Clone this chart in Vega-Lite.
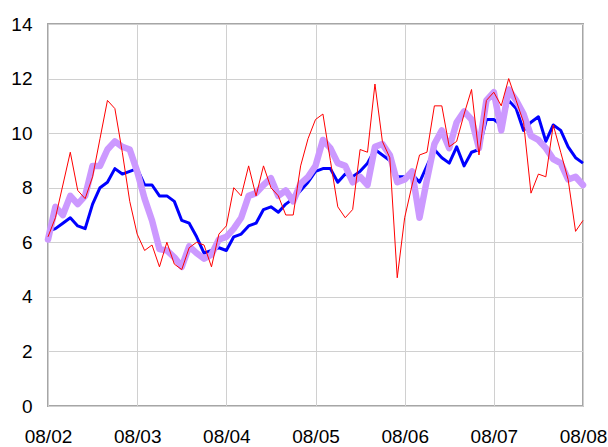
{
  "$schema": "https://vega.github.io/schema/vega-lite/v6.json",
  "autosize": "none",
  "width": 535,
  "height": 382,
  "padding": {"left": 48, "top": 24, "right": 25, "bottom": 41},
  "background": "white",
  "config": {
    "view": {"stroke": "#A6A6A6", "strokeWidth": 2},
    "axis": {"labelFont": "Liberation Sans", "labelFontSize": 19, "labelColor": "#000000", "gridColor": "#D0D0D0", "gridWidth": 1, "domain": false, "ticks": false, "title": null}
  },
  "data": {"values": [
    {"i":0,"red":6.2,"blue":6.4,"purple":6.1},
    {"i":1,"red":6.9,"blue":6.5,"purple":7.3},
    {"i":2,"red":8.1,"blue":6.7,"purple":7.0},
    {"i":3,"red":9.3,"blue":6.9,"purple":7.7},
    {"i":4,"red":7.9,"blue":6.6,"purple":7.4},
    {"i":5,"red":7.6,"blue":6.5,"purple":7.7},
    {"i":6,"red":8.4,"blue":7.4,"purple":8.8},
    {"i":7,"red":9.8,"blue":8.0,"purple":8.8},
    {"i":8,"red":11.2,"blue":8.2,"purple":9.4},
    {"i":9,"red":10.9,"blue":8.7,"purple":9.7},
    {"i":10,"red":9.3,"blue":8.5,"purple":9.5},
    {"i":11,"red":7.5,"blue":8.6,"purple":9.4},
    {"i":12,"red":6.3,"blue":8.7,"purple":8.6},
    {"i":13,"red":5.7,"blue":8.1,"purple":7.6},
    {"i":14,"red":5.9,"blue":8.1,"purple":6.8},
    {"i":15,"red":5.1,"blue":7.7,"purple":5.75},
    {"i":16,"red":6.0,"blue":7.7,"purple":5.7},
    {"i":17,"red":5.2,"blue":7.5,"purple":5.45},
    {"i":18,"red":5.0,"blue":6.8,"purple":5.1},
    {"i":19,"red":5.8,"blue":6.7,"purple":5.85},
    {"i":20,"red":6.0,"blue":6.2,"purple":5.6},
    {"i":21,"red":5.9,"blue":5.6,"purple":5.4},
    {"i":22,"red":5.1,"blue":5.7,"purple":5.55},
    {"i":23,"red":6.3,"blue":5.8,"purple":6.1},
    {"i":24,"red":6.6,"blue":5.7,"purple":6.2},
    {"i":25,"red":8.0,"blue":6.2,"purple":6.5},
    {"i":26,"red":7.7,"blue":6.3,"purple":6.9},
    {"i":27,"red":8.8,"blue":6.6,"purple":7.7},
    {"i":28,"red":7.7,"blue":6.7,"purple":7.8},
    {"i":29,"red":8.8,"blue":7.2,"purple":8.1},
    {"i":30,"red":8.0,"blue":7.3,"purple":8.35},
    {"i":31,"red":7.7,"blue":7.1,"purple":7.7},
    {"i":32,"red":7.0,"blue":7.4,"purple":7.9},
    {"i":33,"red":7.0,"blue":7.6,"purple":7.5},
    {"i":34,"red":8.8,"blue":7.9,"purple":8.15},
    {"i":35,"red":9.8,"blue":8.2,"purple":8.4},
    {"i":36,"red":10.5,"blue":8.6,"purple":8.8},
    {"i":37,"red":10.7,"blue":8.7,"purple":9.75},
    {"i":38,"red":9.0,"blue":8.7,"purple":9.45},
    {"i":39,"red":7.3,"blue":8.2,"purple":8.9},
    {"i":40,"red":6.9,"blue":8.5,"purple":8.8},
    {"i":41,"red":7.2,"blue":8.4,"purple":8.2},
    {"i":42,"red":9.4,"blue":8.6,"purple":8.4},
    {"i":43,"red":9.3,"blue":8.9,"purple":8.1},
    {"i":44,"red":11.8,"blue":9.4,"purple":9.5},
    {"i":45,"red":9.7,"blue":9.2,"purple":9.6},
    {"i":46,"red":9.1,"blue":9.0,"purple":9.2},
    {"i":47,"red":4.7,"blue":8.4,"purple":8.2},
    {"i":48,"red":6.9,"blue":8.4,"purple":8.3},
    {"i":49,"red":8.1,"blue":8.5,"purple":8.6},
    {"i":50,"red":9.2,"blue":8.2,"purple":6.9},
    {"i":51,"red":9.3,"blue":8.8,"purple":8.3},
    {"i":52,"red":11.0,"blue":9.4,"purple":9.6},
    {"i":53,"red":11.0,"blue":9.1,"purple":10.1},
    {"i":54,"red":9.5,"blue":8.9,"purple":9.45},
    {"i":55,"red":9.7,"blue":9.5,"purple":10.4},
    {"i":56,"red":10.7,"blue":8.8,"purple":10.8},
    {"i":57,"red":11.6,"blue":9.3,"purple":10.5},
    {"i":58,"red":9.2,"blue":9.4,"purple":9.45},
    {"i":59,"red":11.2,"blue":10.5,"purple":11.2},
    {"i":60,"red":11.5,"blue":10.5,"purple":11.5},
    {"i":61,"red":11.0,"blue":10.3,"purple":10.1},
    {"i":62,"red":12.0,"blue":11.2,"purple":11.6},
    {"i":63,"red":11.2,"blue":10.9,"purple":11.2},
    {"i":64,"red":10.4,"blue":10.1,"purple":10.7},
    {"i":65,"red":7.8,"blue":10.4,"purple":9.9},
    {"i":66,"red":8.5,"blue":10.6,"purple":9.75},
    {"i":67,"red":8.4,"blue":9.7,"purple":9.45},
    {"i":68,"red":10.3,"blue":10.3,"purple":9.05},
    {"i":69,"red":9.3,"blue":10.1,"purple":8.9},
    {"i":70,"red":8.3,"blue":9.5,"purple":8.3},
    {"i":71,"red":6.4,"blue":9.1,"purple":8.4},
    {"i":72,"red":6.8,"blue":8.9,"purple":8.1}
  ]},
  "encoding": {
    "x": {"field": "i", "type": "quantitative",
      "scale": {"domain": [0, 72], "nice": false, "zero": false},
      "axis": {"values": [0, 12, 24, 36, 48, 60, 72], "labelExpr": "'08/0' + (2 + datum.value / 12)", "labelPadding": 21, "labelFlush": false, "labelOverlap": false}}
  },
  "layer": [
    {"mark": {"type": "line", "color": "#0000FF", "strokeWidth": 3, "strokeJoin": "round"},
     "encoding": {"y": {"field": "blue", "type": "quantitative", "scale": {"domain": [0, 14], "nice": false},
       "axis": {"values": [0, 2, 4, 6, 8, 10, 12, 14], "labelPadding": 16}}}},
    {"mark": {"type": "line", "color": "#CC99FF", "strokeWidth": 6.5, "strokeJoin": "round", "strokeCap": "round"},
     "encoding": {"y": {"field": "purple", "type": "quantitative"}}},
    {"mark": {"type": "line", "color": "#FF0000", "strokeWidth": 1},
     "encoding": {"y": {"field": "red", "type": "quantitative"}}}
  ]
}
